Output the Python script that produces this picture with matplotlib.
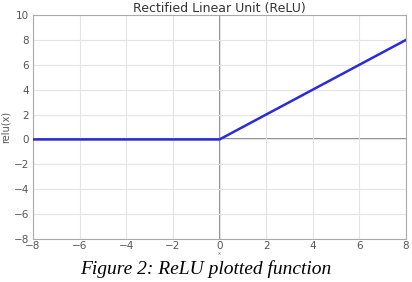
import matplotlib
matplotlib.use('Agg')
import matplotlib.pyplot as plt
import numpy as np

# ReLU sample points
x = [-8, -4, 0, 4, 8]
relu = [0, 0, 0, 4, 8]

x_ticks = np.arange(-8, 9, 2)
y_ticks = np.arange(-8, 11, 2)

fig = plt.figure(figsize=(4.12, 2.82), dpi=100)
ax = fig.add_axes([33/412, 1-239/282, 373/412, 224/282])

ax.axvline(0, color='#7a7a7a', lw=1.2, zorder=1)
ax.axhline(0, color='#7a7a7a', lw=1.2, zorder=1)
ax.plot(x, relu, color='#2b2bd9', lw=1.8, zorder=3)

ax.set_xlim(-8, 8)
ax.set_ylim(-8, 10)
ax.set_xticks(x_ticks)
ax.set_yticks(y_ticks)
ax.grid(True, color='#e4e4e4', lw=0.8)
ax.tick_params(labelsize=7.5, colors='#555555', length=0)
ax.tick_params(axis='y', pad=3)
ax.tick_params(axis='x', pad=1.5)
for s in ax.spines.values():
    s.set_color('#aaaaaa')
ax.set_title('Rectified Linear Unit (ReLU)', fontsize=9, color='#333333', pad=2)
ax.set_ylabel('relu(x)', fontsize=7, color='#555555', labelpad=2)
ax.set_xlabel('x', fontsize=3.5, color='#777777', labelpad=0)

fig.text(0.5, 1-274/282, 'Figure 2: ReLU plotted function', ha='center', va='baseline',
         family='Liberation Serif', style='italic', fontsize=14)

fig.savefig('out.png', dpi=100)
